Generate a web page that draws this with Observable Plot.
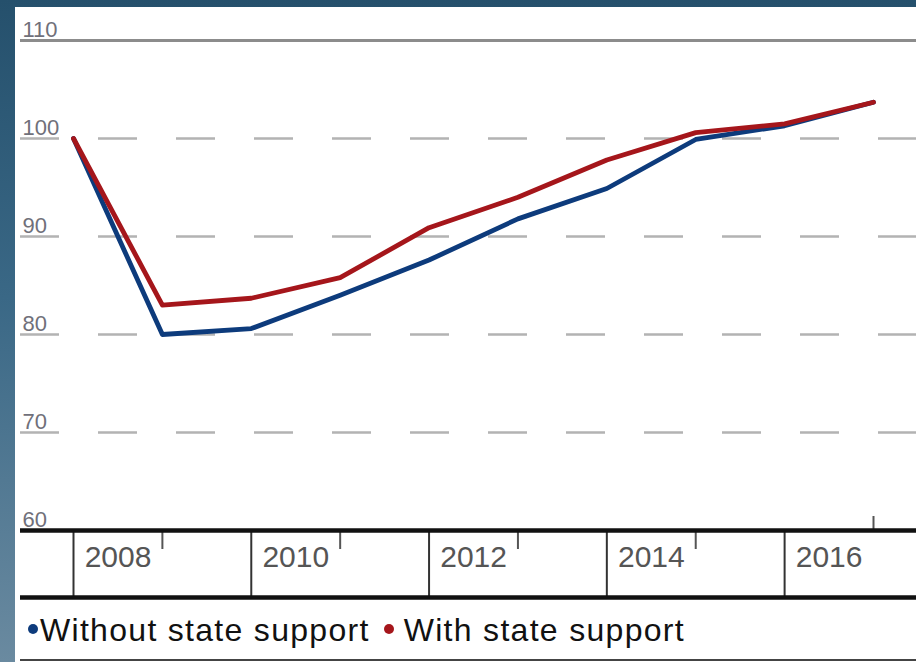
<!DOCTYPE html>
<html><head><meta charset="utf-8">
<script src="https://cdn.jsdelivr.net/npm/d3@7"></script>
<script src="https://cdn.jsdelivr.net/npm/@observablehq/plot@0.6"></script>
<style>
html,body{margin:0;padding:0}
body{width:916px;height:662px;overflow:hidden;position:relative;
  background:linear-gradient(180deg,#25506c 0%,#3a6886 45%,#6a8aa0 100%);
  font-family:"Liberation Sans",Arial,sans-serif}
#panel{position:absolute;left:15px;top:7px;width:901px;height:655px;background:#fff;overflow:hidden}
#chart{position:absolute;left:0;top:0}
#legend{position:absolute;left:13px;top:607px;font-size:32px;line-height:32px;color:#111;white-space:nowrap;letter-spacing:1.3px}
#legend .dot{display:inline-block;width:10px;height:10px;border-radius:50%;vertical-align:middle;position:relative;top:-4px}
#bottomline{position:absolute;left:5px;right:0;top:652px;height:2px;background:#444}
</style></head>
<body>
<div id="panel"><div id="chart"></div><div id="legend"></div><div id="bottomline"></div></div>
<script>
// ---- data ----
const years = [2007, 2008, 2009, 2010, 2011, 2012, 2013, 2014, 2015, 2016];
const withoutSupport = [100, 80, 80.6, 84, 87.6, 91.8, 94.9, 99.9, 101.3, 103.7];
const withSupport    = [100, 83, 83.7, 85.8, 90.9, 94.0, 97.8, 100.6, 101.5, 103.7];
const seriesNames = ["Without state support", "With state support"];
const seriesColors = ["#0d3b7c", "#a5161b"];
const yTicks = [60, 70, 80, 90, 100, 110];
const gridValues = [70, 80, 90, 100];
const tickYears = [2008, 2010, 2012, 2014, 2016];
const dividerYears = [2007, 2009, 2011, 2013, 2015];

const rowsWithout = years.map((year, i) => ({year, value: withoutSupport[i]}));
const rowsWith = years.map((year, i) => ({year, value: withSupport[i]}));
const blank = () => "";

const chart = Plot.plot({
  width: 901, height: 596,
  marginTop: 33, marginBottom: 73, marginLeft: 5, marginRight: 0,
  x: {domain: [years[0], years[years.length - 1]], range: [58, 858], label: null},
  y: {domain: [yTicks[0], yTicks[yTicks.length - 1]], label: null},
  style: {background: "transparent", fontFamily: "Liberation Sans, Arial, sans-serif", overflow: "visible"},
  marks: [
    Plot.ruleY(gridValues, {stroke: "#b3b3b3", strokeWidth: 2.6, strokeDasharray: "39 39"}),
    Plot.ruleY([yTicks[yTicks.length - 1]], {stroke: "#8c8c8c", strokeWidth: 3}),
    Plot.axisY(yTicks, {anchor: "left", tickSize: 0, tickPadding: 0, textAnchor: "start", lineAnchor: "bottom",
      dx: 2, dy: -4, fontSize: 22, fill: "#70707a", tickFormat: d => String(d)}),
    Plot.axisX(dividerYears, {anchor: "bottom", tickSize: 67, tickFormat: blank, stroke: "#333", strokeWidth: 2}),
    Plot.axisX(tickYears.slice(0, -1), {anchor: "bottom", tickSize: 19, tickFormat: blank, stroke: "#555", strokeWidth: 2}),
    Plot.axisX(tickYears.slice(-1), {anchor: "bottom", tickSize: -14, tickFormat: blank, stroke: "#555", strokeWidth: 2}),
    Plot.axisX(tickYears, {anchor: "bottom", tickSize: 0, tickPadding: 0, textAnchor: "end", dx: -11, dy: 15,
      fontSize: 30, fill: "#555", tickFormat: d => String(d)}),
    Plot.ruleY([yTicks[0]], {stroke: "#111", strokeWidth: 4.5}),
    Plot.ruleY([yTicks[0]], {stroke: "#111", strokeWidth: 4.5, dy: 67}),
    Plot.line(rowsWithout, {x: "year", y: "value", stroke: seriesColors[0], strokeWidth: 4.8}),
    Plot.line(rowsWith, {x: "year", y: "value", stroke: seriesColors[1], strokeWidth: 4.8})
  ]
});
document.getElementById("chart").appendChild(chart);

const legend = document.getElementById("legend");
seriesNames.forEach((name, i) => {
  const dot = document.createElement("span");
  dot.className = "dot";
  dot.style.background = seriesColors[i];
  dot.style.marginLeft = i === 0 ? "0px" : "14px";
  dot.style.marginRight = i === 0 ? "2px" : "10px";
  legend.appendChild(dot);
  legend.appendChild(document.createTextNode(name));
});
</script>
</body></html>
